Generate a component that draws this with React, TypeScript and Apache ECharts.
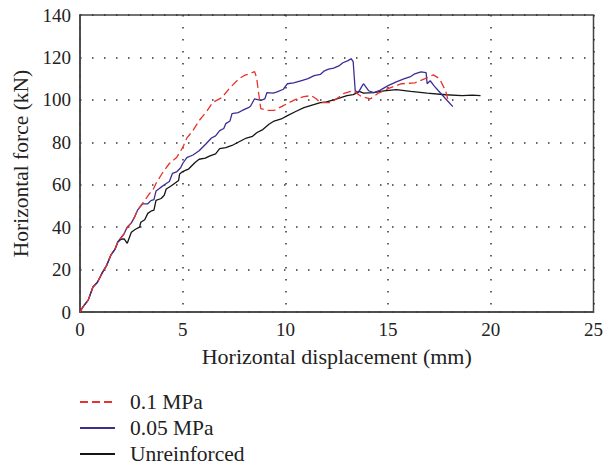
import React, { useEffect, useRef } from "react";
import * as echarts from "echarts";

const seriesNames = ["0.1 MPa", "0.05 MPa", "Unreinforced"];

const redData: [number, number][] = [
  [0, 0], [0.15, 2.5], [0.4, 5.6], [0.63, 11.8], [0.85, 14], [1.1, 18.8], [1.3, 22], [1.5, 26.8],
  [1.7, 29.5], [1.84, 33], [2.0, 35], [2.15, 37], [2.3, 40], [2.5, 42], [2.65, 44.6], [2.8, 48],
  [2.95, 50], [3.15, 52.6], [3.4, 56], [3.55, 57.5], [3.7, 60.6], [4.0, 65.3], [4.35, 70], [4.7, 72.8],
  [5.0, 77.5], [5.2, 82], [5.5, 85.5], [5.8, 90.2], [6.2, 95], [6.45, 98.7], [6.9, 101], [7.3, 105.7],
  [7.75, 110], [8.0, 111.5], [8.25, 112.3], [8.5, 113.3], [8.6, 110.4], [8.7, 103], [8.8, 95.9],
  [9.1, 95], [9.45, 95], [9.9, 97.3], [10.55, 100.5], [10.9, 101.5], [11.25, 102], [11.5, 100.5],
  [11.7, 98.7], [12.2, 98.7], [12.5, 100.5], [12.85, 103], [13.3, 104.3], [13.7, 101.5], [14.15, 100.5],
  [14.5, 103], [15.0, 105.3], [15.65, 107.6], [16.3, 108], [16.8, 110], [17.2, 111.8], [17.5, 110],
  [17.8, 104.3], [17.9, 100.5],
];

const blueData: [number, number][] = [
  [0, 0], [0.15, 2.5], [0.4, 5.6], [0.63, 11.8], [0.85, 14], [1.1, 18.8], [1.3, 22], [1.5, 26.8],
  [1.7, 29.5], [1.84, 33], [2.0, 35], [2.15, 37], [2.3, 40], [2.5, 42], [2.65, 44.6], [2.8, 48],
  [3.05, 51], [3.3, 51], [3.45, 52.5], [3.6, 53], [3.7, 57], [3.9, 58.5], [4.2, 60.6], [4.35, 61.5],
  [4.5, 65.3], [4.7, 66], [4.9, 68], [5.0, 70], [5.2, 72.8], [5.5, 74], [5.8, 76], [6.15, 79.4],
  [6.4, 82], [6.6, 83], [6.8, 85.5], [7.0, 86.5], [7.1, 88.8], [7.3, 90], [7.4, 93.5], [7.7, 94],
  [7.9, 95], [8.2, 96.3], [8.3, 97], [8.5, 100.5], [8.8, 99.8], [9.0, 100.5], [9.1, 103.4], [9.4, 103.2],
  [9.6, 103.8], [9.9, 105], [10.1, 107.6], [10.4, 108], [10.75, 109], [11.1, 110], [11.4, 111.4],
  [11.7, 112], [11.9, 113.7], [12.1, 114.5], [12.35, 115], [12.6, 116], [12.8, 117.5], [13.05, 118.5],
  [13.2, 119.4], [13.3, 118], [13.4, 104.3], [13.55, 103.4], [13.7, 106], [13.8, 107.6], [14.05, 104.3],
  [14.3, 103.4], [14.6, 104.5], [15.0, 106.7], [15.4, 108.5], [15.8, 110], [16.1, 111], [16.3, 112.3],
  [16.6, 113.2], [16.85, 112.8], [16.9, 107.6], [17.05, 109], [17.25, 106.5], [17.45, 104.3],
  [17.8, 100.5], [18.15, 96.8],
];

const blackData: [number, number][] = [
  [0, 0], [0.15, 2.5], [0.4, 5.6], [0.63, 11.8], [0.85, 14], [1.1, 18.8], [1.3, 22], [1.5, 26.8],
  [1.7, 29.5], [1.84, 33], [2.0, 34.3], [2.15, 34.5], [2.3, 32.4], [2.5, 37.6], [2.7, 39], [2.9, 40],
  [2.96, 42.3], [3.15, 43.5], [3.3, 46.5], [3.45, 47.5], [3.6, 48], [3.7, 52.6], [3.95, 53.5], [4.1, 55],
  [4.2, 58], [4.45, 59.5], [4.6, 60.6], [4.8, 62], [4.85, 65], [5.0, 66.2], [5.3, 67.5], [5.6, 70.5],
  [5.8, 72], [6.1, 72.5], [6.3, 73.5], [6.6, 74.5], [6.8, 77], [7.1, 77.5], [7.4, 78.5], [7.7, 80],
  [8.1, 82], [8.4, 82.8], [8.6, 84.5], [8.9, 86], [9.2, 88.5], [9.45, 90], [9.8, 91], [10.1, 92.6],
  [10.5, 94.5], [10.9, 96.3], [11.3, 97.5], [11.7, 98.7], [12.0, 99], [12.35, 100], [12.7, 101],
  [13.0, 102], [13.3, 102.5], [13.5, 103.4], [13.6, 104], [13.8, 103.2], [14.3, 103.4], [14.8, 104.2],
  [15.4, 104.8], [16.1, 104], [16.9, 103.2], [17.8, 102.4], [18.6, 102], [19.1, 102.2], [19.5, 102],
];

const xTitle = "Horizontal displacement (mm)";
const yTitle = "Horizontal force (kN)";

const FONT = "'Liberation Serif', 'DejaVu Serif', serif";

export default function App() {
  const ref = useRef<HTMLDivElement>(null);
  useEffect(() => {
    if (!ref.current) return;
    const chart = echarts.init(ref.current, undefined, { renderer: "svg" });
    const dotted = { color: "#333", width: 1.5, type: [1.5, 10.5] as number[] };
    chart.setOption({
      animation: false,
      backgroundColor: "#fff",
      grid: {
        left: 80, right: 9, top: 15, bottom: 154,
        show: true, borderColor: "#444", borderWidth: 1.5,
      },
      legend: {
        orient: "vertical",
        left: 79,
        top: 391,
        height: 74,
        padding: 0,
        itemWidth: 35,
        itemHeight: 14,
        itemGap: 4,
        data: seriesNames,
        itemStyle: { opacity: 0 },
        textStyle: { fontFamily: FONT, fontSize: 21.5, color: "#222", padding: [0, 0, 0, 10] },
      },
      xAxis: {
        type: "value",
        min: 0, max: 25, interval: 5,
        name: xTitle,
        nameLocation: "middle",
        nameGap: 33,
        nameTextStyle: { fontFamily: FONT, fontSize: 22, color: "#222" },
        axisLine: { lineStyle: { color: "#444", width: 1.5 } },
        axisTick: { show: false },
        axisLabel: { fontFamily: FONT, fontSize: 19, color: "#222", margin: 8 },
        splitLine: { show: true, lineStyle: dotted },
      },
      yAxis: {
        type: "value",
        min: 0, max: 140, interval: 20,
        name: yTitle,
        nameLocation: "middle",
        nameGap: 48,
        nameTextStyle: { fontFamily: FONT, fontSize: 21.5, color: "#222" },
        axisLine: { show: true, lineStyle: { color: "#444", width: 1.5 } },
        axisTick: { show: false },
        axisLabel: { fontFamily: FONT, fontSize: 19, color: "#222", margin: 9 },
        splitLine: { show: true, lineStyle: dotted },
      },
      series: [
        {
          name: seriesNames[0], type: "line", data: redData, symbol: "none",
          lineStyle: { color: "#e8322c", width: 1.3, type: [8, 4] }, itemStyle: { color: "#e8322c" }, z: 3,
        },
        {
          name: seriesNames[1], type: "line", data: blueData, symbol: "none",
          lineStyle: { color: "#3b2d94", width: 1.3 }, itemStyle: { color: "#3b2d94" }, z: 2,
        },
        {
          name: seriesNames[2], type: "line", data: blackData, symbol: "none",
          lineStyle: { color: "#151515", width: 1.3 }, itemStyle: { color: "#151515" }, z: 1,
        },
      ],
    });
    return () => chart.dispose();
  }, []);
  return <div ref={ref} style={{ width: 606, height: 466, position: "absolute", left: 0, top: 0 }} />;
}
